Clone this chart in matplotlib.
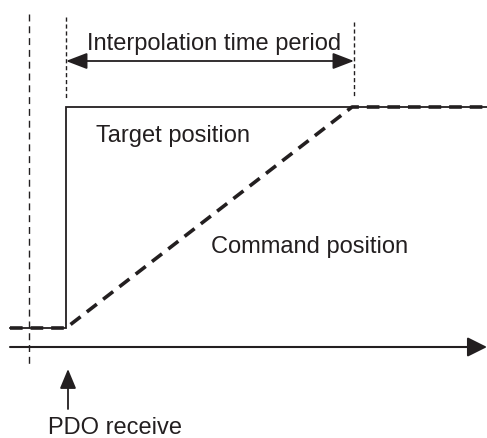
import matplotlib
matplotlib.use("Agg")
import matplotlib.pyplot as plt

# Timing diagram data (pixel-like coordinates of the schematic)
t_pdo = 66          # PDO receive time
t_end = 352         # end of interpolation period
t_ref = 29          # previous sync line
x_start, x_stop = 10, 487
level_low, level_high = 329, 108
axis_y = 348

target_x = [x_start, t_pdo, t_pdo, x_stop]
target_y = [level_low, level_low, level_high, level_high]
command_x = [x_start, t_pdo, t_end, x_stop]
command_y = [level_low, level_low, level_high, level_high]

labels = {
    "period": "Interpolation time period",
    "target": "Target position",
    "command": "Command position",
    "pdo": "PDO receive",
}

col = "#231f20"
plt.rcParams['font.family'] = ['Liberation Sans', 'DejaVu Sans']

fig = plt.figure(figsize=(4.87, 4.39), dpi=100)
ax = fig.add_axes([0, 0, 1, 1])
ax.set_xlim(0, 487)
ax.set_ylim(439, 0)
ax.axis("off")

# vertical reference lines
ax.plot([t_ref, t_ref], [15, 366], color=col, lw=1.0, dashes=(5, 3.5))
ax.plot([t_pdo, t_pdo], [18, 99], color=col, lw=1.0, dashes=(3, 2))
ax.plot([t_end + 2, t_end + 2], [23, 97], color=col, lw=1.0, dashes=(3, 2))

# target (solid) and command (dashed)
ax.plot(target_x, target_y, color=col, lw=1.3, solid_joinstyle="miter")
ax.plot(command_x, command_y, color=col, lw=2.6, dashes=(3.5, 2.2), dash_capstyle="butt")

# time axis
ax.annotate("", xy=(x_stop, axis_y), xytext=(x_start, axis_y),
            arrowprops=dict(arrowstyle="-|>,head_length=1.2,head_width=0.6",
                            color=col, lw=1.5, shrinkA=0, shrinkB=0))

# interpolation period double arrow
ax.annotate("", xy=(t_pdo, 62), xytext=(t_end + 2, 62),
            arrowprops=dict(arrowstyle="<|-|>,head_length=1.3,head_width=0.5",
                            color=col, lw=1.3, shrinkA=0, shrinkB=0))

# PDO receive arrow
ax.annotate("", xy=(t_pdo + 2, 370), xytext=(t_pdo + 2, 410),
            arrowprops=dict(arrowstyle="-|>,head_length=1.2,head_width=0.5",
                            color=col, lw=1.3, shrinkA=0, shrinkB=0))

fs = 17
ax.text(87, 50, labels["period"], fontsize=fs, color=col, ha="left", va="baseline")
ax.text(96, 142, labels["target"], fontsize=fs, color=col, ha="left", va="baseline")
ax.text(211, 253, labels["command"], fontsize=fs, color=col, ha="left", va="baseline")
ax.text(48, 434, labels["pdo"], fontsize=fs, color=col, ha="left", va="baseline")

fig.savefig("out.png", dpi=100)
